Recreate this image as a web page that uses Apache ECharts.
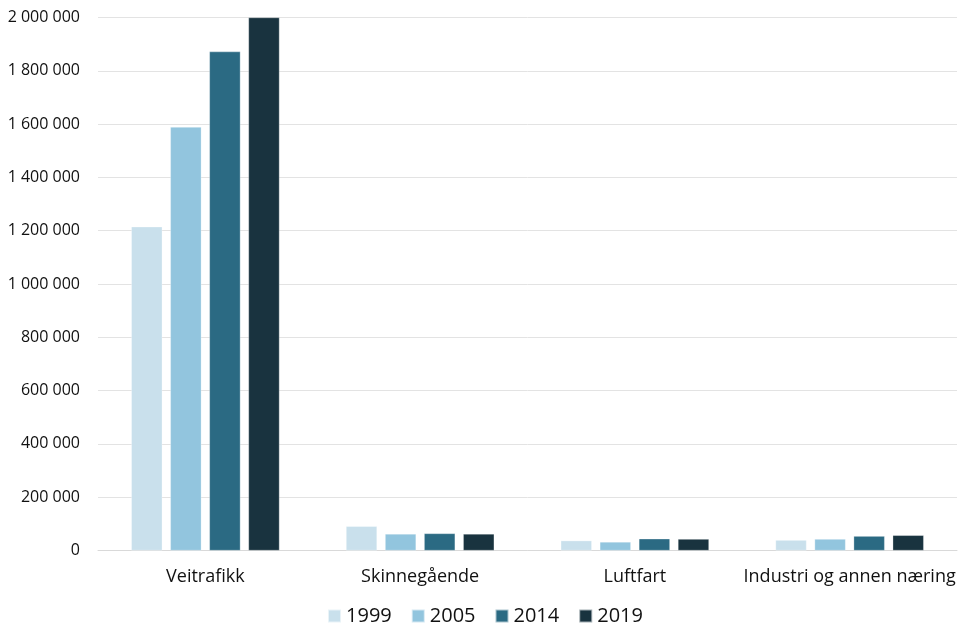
<!DOCTYPE html>
<html>
<head>
<meta charset="utf-8">
<script src="https://cdn.jsdelivr.net/npm/echarts@6/dist/echarts.min.js"></script>
<style>
  html, body { margin: 0; padding: 0; background: #fff; }
  #chart { width: 970px; height: 641px; }
</style>
</head>
<body>
<div id="chart"></div>
<script>
var categories = ['Veitrafikk', 'Skinnegående', 'Luftfart', 'Industri og annen næring'];
var years = ['1999', '2005', '2014', '2019'];
var v1999 = [1215000, 91000, 37000, 39000];
var v2005 = [1589000, 62000, 32000, 43000];
var v2014 = [1872000, 64000, 44000, 54000];
var v2019 = [2000000, 62000, 43000, 57000];
var colors = ['#c9e0ec', '#92c5de', '#2b6a83', '#19333f'];

var myChart = echarts.init(document.getElementById('chart'));

function fmt(v) {
    return String(v).replace(/\B(?=(\d{3})+(?!\d))/g, ' ');
}

function bar(name, data, color) {
    return {
        name: name,
        type: 'bar',
        data: data,
        barWidth: 31,
        barGap: '26%',
        itemStyle: { color: color, borderColor: 'rgba(255,255,255,0.6)', borderWidth: 0.5 }
    };
}

var option = {
    animation: false,
    textStyle: { fontFamily: 'Open Sans' },
    grid: { left: 98, right: 13, top: 17.5, bottom: 90.5 },
    legend: {
        data: years,
        bottom: 10,
        left: 'center',
        itemWidth: 13,
        itemHeight: 13,
        itemGap: 19,
        icon: 'rect',
        textStyle: { color: '#111', fontSize: 20, fontFamily: 'Open Sans' }
    },
    xAxis: {
        type: 'category',
        data: categories,
        axisTick: { show: false },
        axisLine: { lineStyle: { color: '#d9d9d9', width: 1 } },
        axisLabel: { color: '#111', fontSize: 18, margin: 17, interval: 0 }
    },
    yAxis: {
        type: 'value',
        min: 0,
        max: 2000000,
        interval: 200000,
        axisLine: { show: false },
        axisTick: { show: false },
        splitLine: { lineStyle: { color: '#e3e3e3', width: 1 } },
        axisLabel: { color: '#111', fontSize: 16, margin: 18, formatter: fmt }
    },
    series: [
        bar(years[0], v1999, colors[0]),
        bar(years[1], v2005, colors[1]),
        bar(years[2], v2014, colors[2]),
        bar(years[3], v2019, colors[3])
    ]
};

myChart.setOption(option);
window.addEventListener('resize', function () {
    myChart.resize();
});
</script>
</body>
</html>
